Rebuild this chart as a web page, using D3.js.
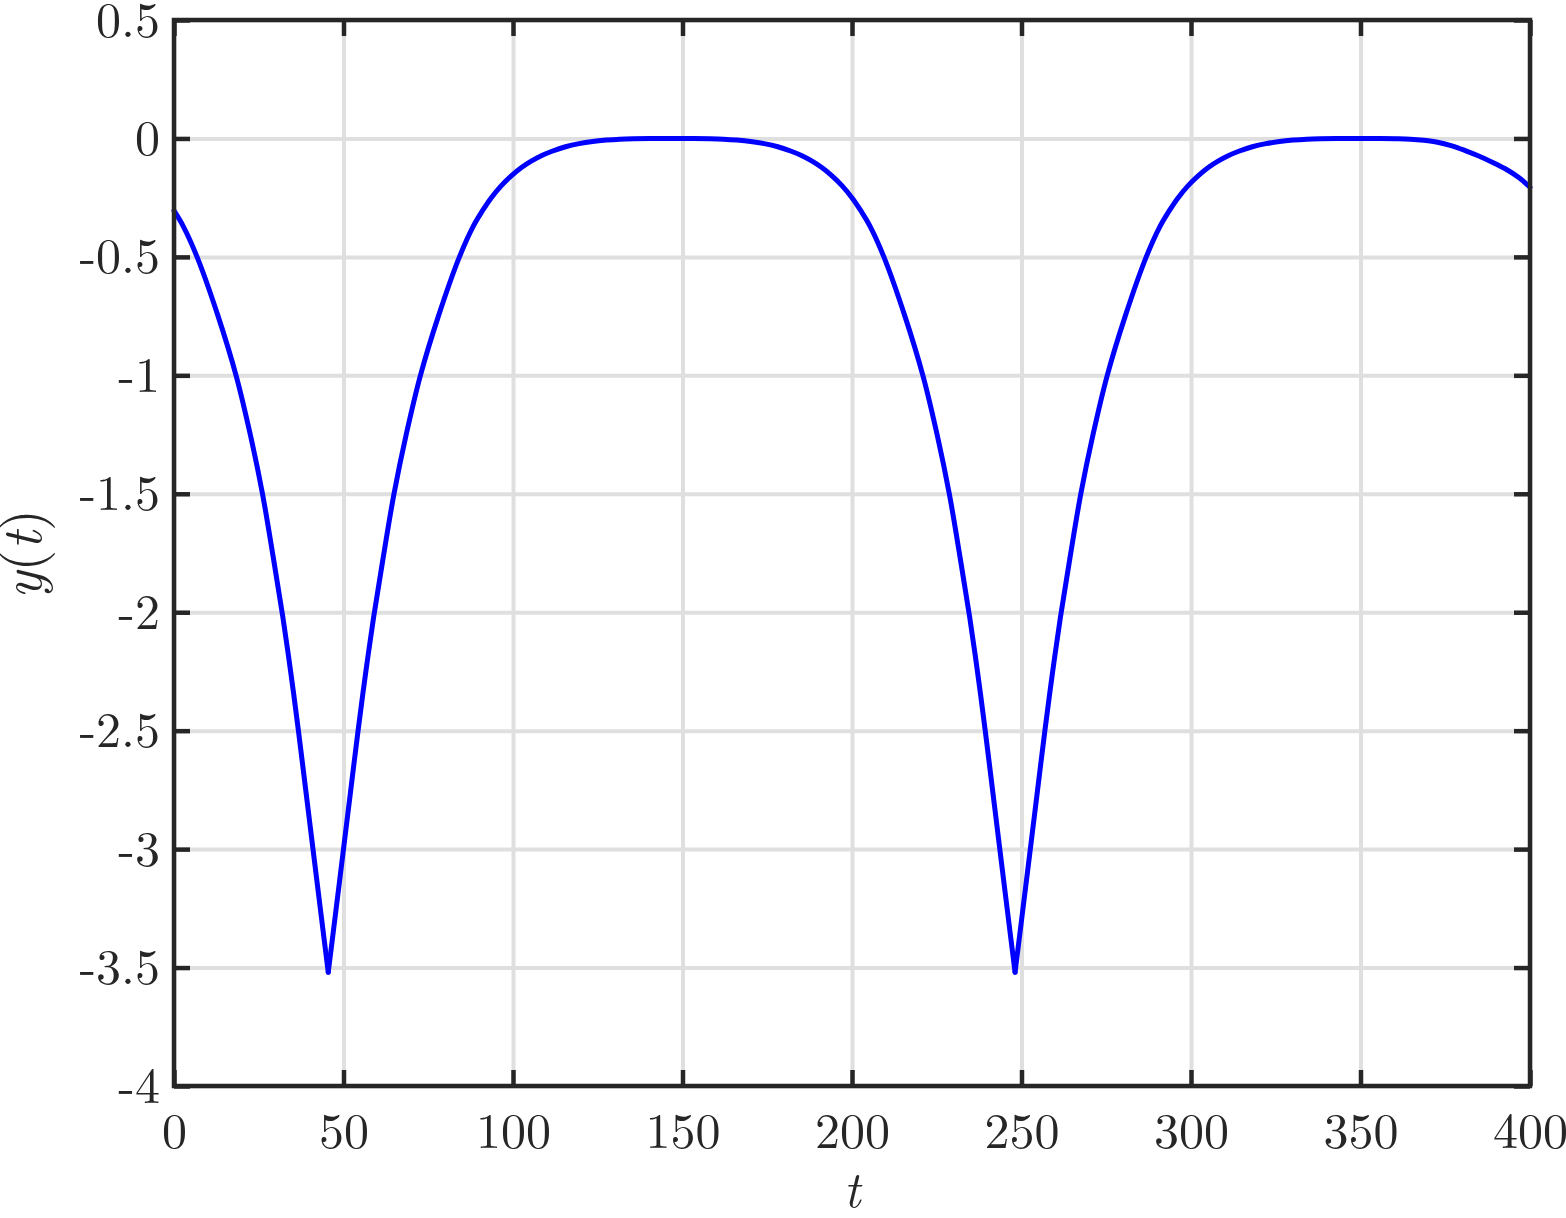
<!DOCTYPE html>
<html>
<head>
<meta charset="utf-8">
<script src="https://cdn.jsdelivr.net/npm/d3@7"></script>
<style>
  body { margin: 0; background: #fff; }
  text { font-family: "Latin Modern Roman", "CMU Serif", "Liberation Serif", serif; fill: #262626; }
</style>
</head>
<body>
<div id="chart"></div>
<script>
// values
const tValues = [
  0, 2.7, 6.8, 13, 18.3, 22.5, 26.1, 29.3, 32.1, 34.5, 36.7, 38.9, 41, 43.5, 45.5,
  47.5, 50, 52.1, 54.3, 56.5, 58.9, 61.7, 64.9, 68.5, 72.7, 78, 84.2, 88.3, 91, 93.5, 96.5,
  99.5, 102.5, 105.5, 108.5, 111.5, 115.5, 119.5, 123.5, 127.5, 131.5, 135.5, 140.5, 147, 153.1,
  158.1, 162.1, 166.1, 170.1, 174.1, 178.1, 182.1, 185.1, 188.1, 191.1, 194.1, 197.1, 200.1,
  202.6, 205.3, 209.4, 215.6, 220.9, 225.1, 228.7, 231.9, 234.7, 237.1, 239.3, 241.5, 243.6, 246.1, 248.1,
  250.1, 252.6, 254.7, 256.9, 259.1, 261.5, 264.3, 267.5, 271.1, 275.3, 280.6, 286.8, 290.9, 293.6, 296.1, 299.1,
  302.1, 305.1, 308.1, 311.1, 314.1, 318.1, 322.1, 326.1, 330.1, 334.1, 338.1, 343.1, 350, 355.7,
  360.7, 364.7, 368.7, 372.7, 376.7, 380.7, 384.7, 388.7, 392.7, 396.7, 400
];
const yValues = [
  -0.305, -0.37, -0.5, -0.75, -1.0, -1.25, -1.5, -1.77, -2.02, -2.26, -2.5, -2.755, -3.0, -3.29, -3.52,
  -3.29, -3.0, -2.755, -2.5, -2.26, -2.02, -1.77, -1.5, -1.25, -1.0, -0.75, -0.5, -0.37, -0.305, -0.252, -0.2,
  -0.158, -0.123, -0.095, -0.072, -0.054, -0.035, -0.022, -0.013, -0.007, -0.003, -0.001, 0, 0, 0,
  -0.001, -0.003, -0.007, -0.013, -0.022, -0.035, -0.054, -0.072, -0.095, -0.123, -0.158, -0.2, -0.252,
  -0.305, -0.37, -0.5, -0.75, -1.0, -1.25, -1.5, -1.77, -2.02, -2.26, -2.5, -2.755, -3.0, -3.29, -3.52,
  -3.29, -3.0, -2.755, -2.5, -2.26, -2.02, -1.77, -1.5, -1.25, -1.0, -0.75, -0.5, -0.37, -0.305, -0.252, -0.2,
  -0.158, -0.123, -0.095, -0.072, -0.054, -0.035, -0.022, -0.013, -0.007, -0.003, -0.001, 0, 0, 0,
  -0.001, -0.003, -0.008, -0.016, -0.03, -0.05, -0.073, -0.099, -0.128, -0.165, -0.206
];
const xTicks = [0, 50, 100, 150, 200, 250, 300, 350, 400];
const yTicks = [0.5, 0, -0.5, -1, -1.5, -2, -2.5, -3, -3.5, -4];

const width = 1566, height = 1218;
const margin = {left: 174, right: 36, top: 20, bottom: 132};
const innerW = width - margin.left - margin.right;
const innerH = height - margin.top - margin.bottom;
const tickLen = 16;
const dark = "#262626";
const fontStack = "\"Latin Modern Roman\", \"CMU Serif\", \"Liberation Serif\", serif";

const svg = d3.select("#chart")
    .append("svg")
    .attr("width", width)
    .attr("height", height);

const g = svg.append("g")
    .attr("transform", `translate(${margin.left}, ${margin.top})`);

const x = d3.scaleLinear().domain([0, 400]).range([0, innerW]);
const y = d3.scaleLinear().domain([-4, 0.5]).range([innerH, 0]);

// grid
g.append("g")
    .attr("transform", `translate(0, ${innerH})`)
    .call(d3.axisBottom(x).tickValues(xTicks).tickSize(-innerH).tickFormat(""))
    .call(a => a.select(".domain").remove())
    .selectAll("line").attr("stroke", "#dfdfdf").attr("stroke-width", 4);

g.append("g")
    .call(d3.axisLeft(y).tickValues(yTicks).tickSize(-innerW).tickFormat(""))
    .call(a => a.select(".domain").remove())
    .selectAll("line").attr("stroke", "#dfdfdf").attr("stroke-width", 4);

// curve, split at the cusps so they stay sharp
const data = tValues.map((t, i) => ({t: t, y: yValues[i]}));
const cusps = data.map((d, i) => i)
    .filter(i => i > 0 && i < data.length - 1 && data[i].y < data[i - 1].y && data[i].y < data[i + 1].y);
const breaks = [0, ...cusps, data.length - 1];
const line = d3.line()
    .x(d => x(d.t))
    .y(d => y(d.y))
    .curve(d3.curveCatmullRom.alpha(0.5));

for (let k = 0; k < breaks.length - 1; k++) {
    g.append("path")
        .datum(data.slice(breaks[k], breaks[k + 1] + 1))
        .attr("fill", "none")
        .attr("stroke", "#0000ff")
        .attr("stroke-width", 5)
        .attr("stroke-linecap", "round")
        .attr("stroke-linejoin", "round")
        .attr("d", line);
}

// box and inward ticks
const styleAxis = a => {
    a.select(".domain").remove();
    a.selectAll("line").attr("stroke", dark).attr("stroke-width", 4.5);
    a.selectAll("text").attr("fill", dark).style("font-size", "50px").style("font-family", fontStack);
};

g.append("g")
    .attr("transform", `translate(0, ${innerH})`)
    .call(d3.axisBottom(x).tickValues(xTicks).tickSize(-tickLen).tickPadding(26).tickFormat(d => String(d)))
    .call(styleAxis);

g.append("g")
    .call(d3.axisTop(x).tickValues(xTicks).tickSize(-tickLen).tickFormat(""))
    .call(styleAxis);

g.append("g")
    .call(d3.axisLeft(y).tickValues(yTicks).tickSize(-tickLen).tickPadding(14).tickFormat(d => String(d)))
    .call(styleAxis);

g.append("g")
    .attr("transform", `translate(${innerW}, 0)`)
    .call(d3.axisRight(y).tickValues(yTicks).tickSize(-tickLen).tickFormat(""))
    .call(styleAxis);

g.append("rect")
    .attr("width", innerW)
    .attr("height", innerH)
    .attr("fill", "none")
    .attr("stroke", dark)
    .attr("stroke-width", 4.5);

// axis labels
svg.append("text")
    .attr("x", margin.left + innerW / 2)
    .attr("y", 1207)
    .attr("text-anchor", "middle")
    .style("font-size", "50px")
    .style("font-style", "italic")
    .text("t");

const yl = svg.append("text")
    .attr("transform", "translate(41, 554) rotate(-90)")
    .attr("text-anchor", "middle")
    .style("font-size", "56px");
yl.append("tspan").style("font-style", "italic").text("y");
yl.append("tspan").text("(");
yl.append("tspan").style("font-style", "italic").text("t");
yl.append("tspan").text(")");
</script>
</body>
</html>
